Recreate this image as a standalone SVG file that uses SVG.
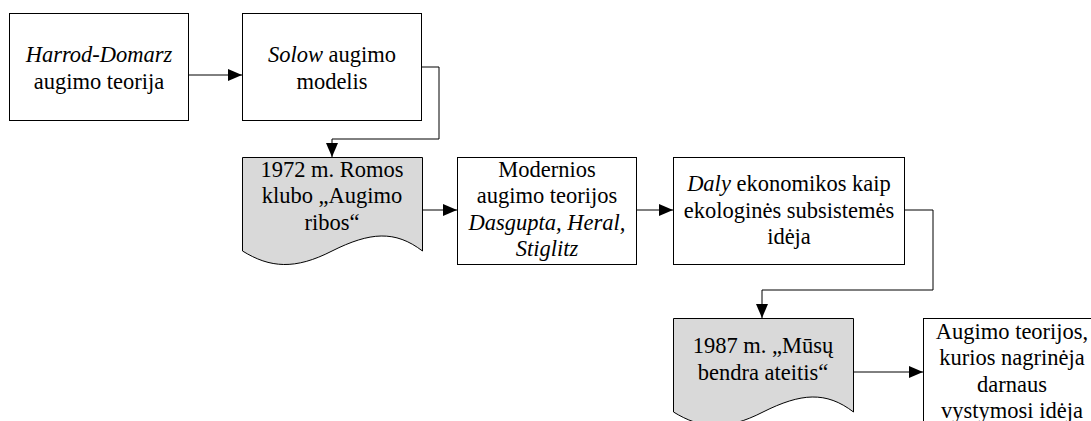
<svg xmlns="http://www.w3.org/2000/svg" width="1091" height="421" viewBox="0 0 1091 421">
<style>
.box{fill:#fff;stroke:#000;stroke-width:1}
.doc{fill:#d9d9d9;stroke:#000;stroke-width:1}
text{font-family:'Liberation Serif','Times New Roman',Times,'DejaVu Serif',serif;font-size:22.5px;fill:#000;text-anchor:middle}
.i{font-style:italic}
.c{fill:none;stroke:#000;stroke-width:1}
</style>
<defs>
<marker id="ah" markerWidth="14" markerHeight="12" refX="14" refY="6" orient="auto" markerUnits="userSpaceOnUse">
<path d="M0,0 L14,6 L0,12 Z" fill="#000"/>
</marker>
</defs>
<rect width="1091" height="421" fill="#fff"/>
<g id="connectors">
<path class="c" d="M189,75 H242" marker-end="url(#ah)"/>
<path class="c" d="M421,67 H439 V139 H332 V157" marker-end="url(#ah)"/>
<path class="c" d="M422,210 H457" marker-end="url(#ah)"/>
<path class="c" d="M637,210 H673" marker-end="url(#ah)"/>
<path class="c" d="M905,210 H933 V290 H762 V318" marker-end="url(#ah)"/>
<path class="c" d="M853,372 H923" marker-end="url(#ah)"/>
</g>
<g id="n1">
<rect class="box" x="9.5" y="13.5" width="179" height="107"/>
<text font-family="Liberation Serif" x="99" y="62"><tspan class="i">Harrod-Domarz</tspan></text>
<text font-family="Liberation Serif" x="99" y="88.5">augimo teorija</text>
</g>
<g id="n2">
<rect class="box" x="242.5" y="13.5" width="179" height="107"/>
<text x="332" y="62"><tspan class="i">Solow</tspan> augimo</text>
<text x="332" y="88.5">modelis</text>
</g>
<g id="n3">
<path class="doc" d="M242.5,157.5 H422.5 V251 C395,230 370,232 332,251 C295,270 270,268 242.5,251 Z"/>
<text x="332" y="176.5">1972 m. Romos</text>
<text x="332" y="203">klubo „Augimo</text>
<text x="332" y="229.5">ribos“</text>
</g>
<g id="n4">
<rect class="box" x="457.5" y="157.5" width="179" height="107"/>
<text x="547" y="176.5">Modernios</text>
<text x="547" y="203">augimo teorijos</text>
<text class="i" x="547" y="229.5">Dasgupta, Heral,</text>
<text class="i" x="547" y="256">Stiglitz</text>
</g>
<g id="n5">
<rect class="box" x="673.5" y="157.5" width="231" height="107"/>
<text x="789" y="191"><tspan class="i">Daly</tspan> ekonomikos kaip</text>
<text x="789" y="217.5">ekologinės subsistemės</text>
<text x="789" y="244">idėja</text>
</g>
<g id="n6">
<path class="doc" d="M673.5,318.5 H853.5 V412 C826,391 801,393 763,412 C726,431 701,429 673.5,412 Z"/>
<text x="763" y="353">1987 m. „Mūsų</text>
<text x="763" y="379.5">bendra ateitis“</text>
</g>
<g id="n7">
<rect class="box" x="923.5" y="318.5" width="178" height="107"/>
<text x="1012" y="338.5">Augimo teorijos,</text>
<text x="1012" y="365">kurios nagrinėja</text>
<text x="1012" y="391.5">darnaus</text>
<text x="1012" y="418">vystymosi idėja</text>
</g>
</svg>
